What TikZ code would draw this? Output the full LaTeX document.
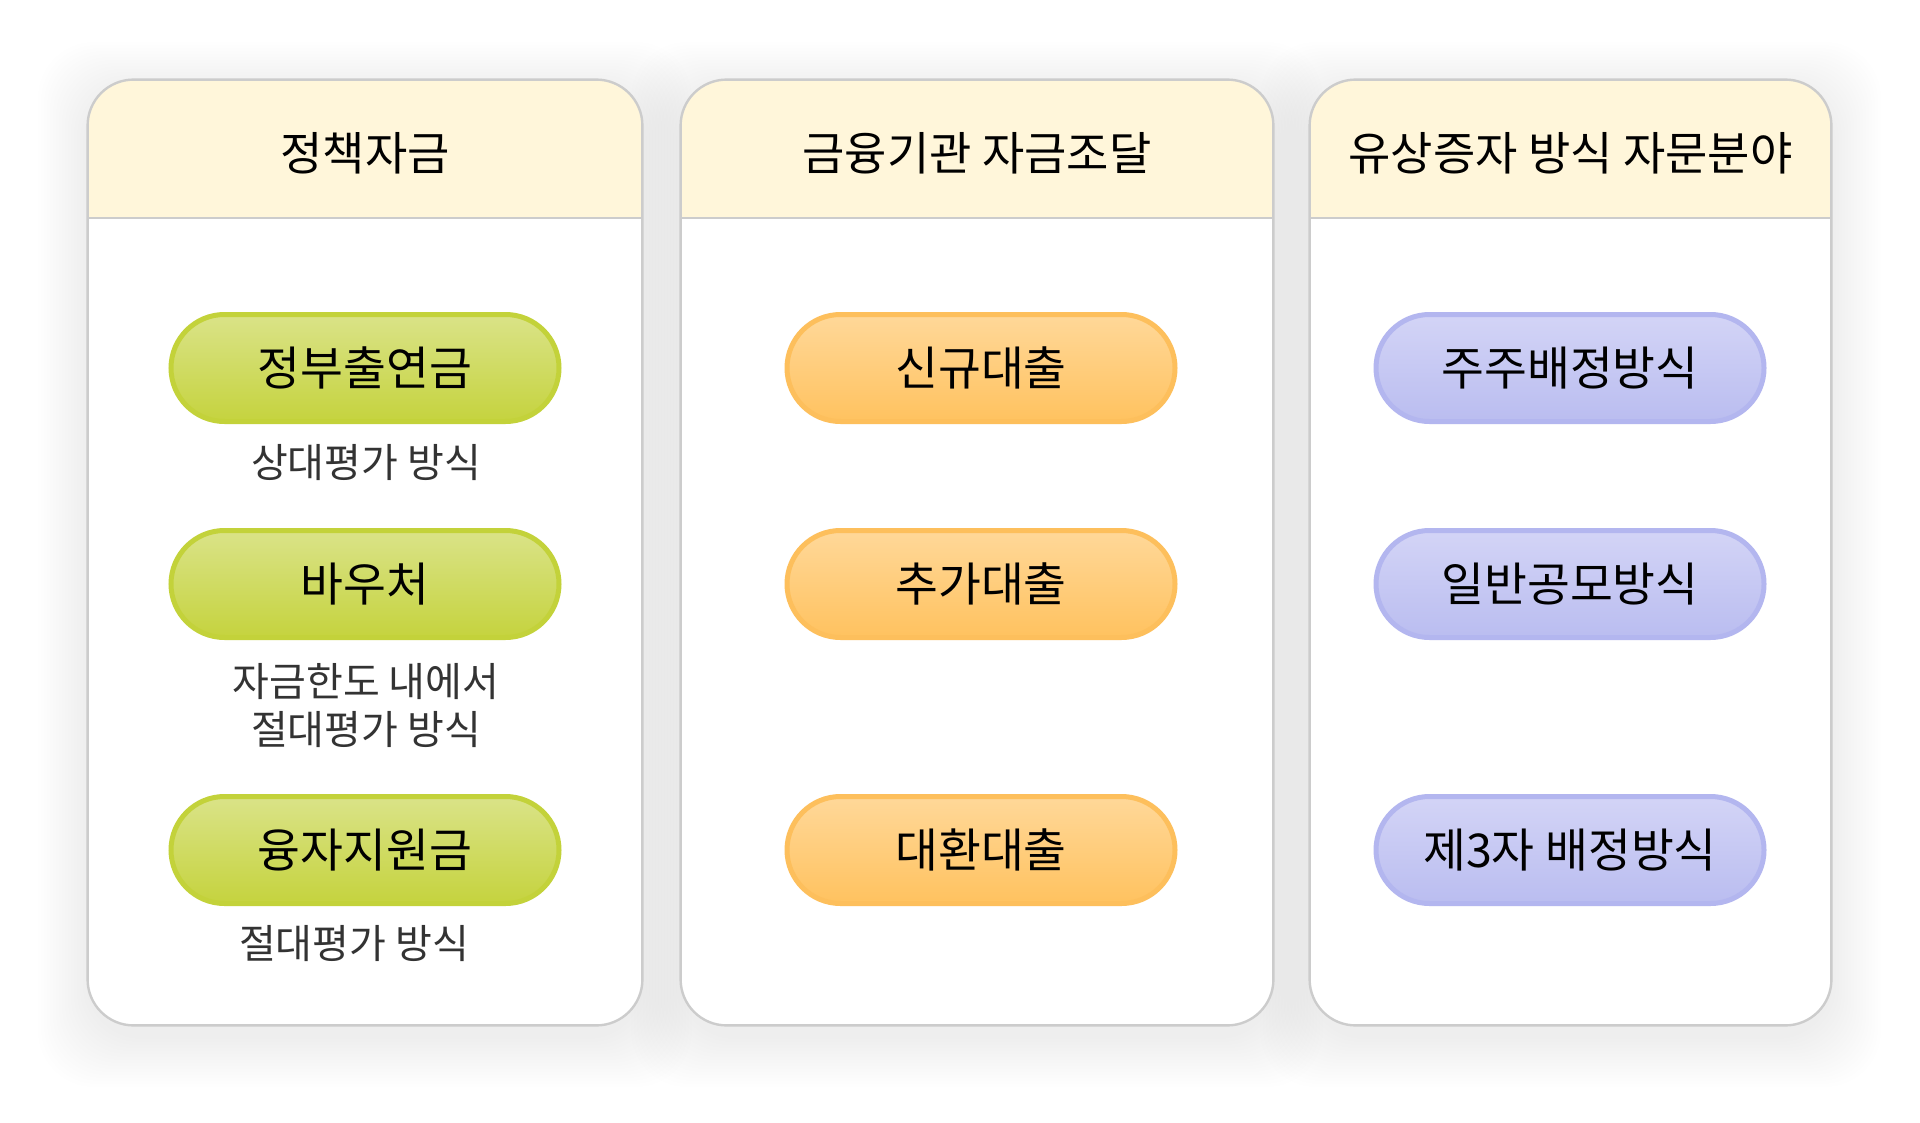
\documentclass[tikz,border=0pt]{standalone}
\usepackage{fontspec}
\setmainfont{Noto Sans CJK KR}
\definecolor{headfill}{HTML}{FFF6DA}
\definecolor{panelline}{HTML}{CCCCCC}
\definecolor{gTop}{HTML}{DAE388}
\definecolor{gBot}{HTML}{C5D33E}
\definecolor{gLine}{HTML}{C3D23A}
\definecolor{oTop}{HTML}{FFD899}
\definecolor{oBot}{HTML}{FFC25F}
\definecolor{oLine}{HTML}{FDBF5C}
\definecolor{pTop}{HTML}{D3D4F6}
\definecolor{pBot}{HTML}{BABDF0}
\definecolor{pLine}{HTML}{B3B6EF}
\definecolor{noteText}{HTML}{333333}
\begin{document}
\begin{tikzpicture}[x=0.5pt,y=-0.5pt,
  panel/.style={rectangle, rounded corners=23pt, fill=white, inner sep=0pt},
  panelborder/.style={draw=panelline, line width=1.2pt, rounded corners=23pt},
  shadowlayer/.style={fill=black, opacity=0.004, rounded corners=28pt},
  headtext/.style={font=\fontsize{23pt}{27pt}\selectfont, text=black},
  pill/.style={rectangle, rounded corners=26.75pt, minimum width=194pt, minimum height=53.5pt,
    line width=2.5pt, font=\fontsize{23.3pt}{27pt}\selectfont, text=black, inner sep=0pt},
  greenpill/.style={pill, draw=gLine, top color=gTop, bottom color=gBot},
  orangepill/.style={pill, draw=oLine, top color=oTop, bottom color=oBot},
  purplepill/.style={pill, draw=pLine, top color=pTop, bottom color=pBot},
  note/.style={font=\fontsize{20pt}{24pt}\selectfont, text=noteText, align=center}
]
\useasboundingbox (0,0) rectangle (1920,1123);
\fill[white] (0,0) rectangle (1920,1123);

% soft shadows
\foreach \a/\b in {88/642, 681/1273, 1310/1831}{
  \foreach \r in {2,5,...,50}{
    \fill[shadowlayer] (\a-\r,80-\r+12) rectangle (\b+\r,1025+\r+12);
  }
}

% panels
\node[panel, minimum width=277pt, minimum height=472.5pt] (P1) at (365,552.5) {};
\node[panel, minimum width=296pt, minimum height=472.5pt] (P2) at (977,552.5) {};
\node[panel, minimum width=260.5pt, minimum height=472.5pt] (P3) at (1570.5,552.5) {};

% headers
\foreach \a/\b in {88/642, 681/1273, 1310/1831}{
  \fill[headfill] (\a,218) [rounded corners=23pt] -- (\a,80) -- (\b,80) [sharp corners] -- (\b,218) -- cycle;
  \draw[panelline, line width=1.2pt] (\a,218) -- (\b,218);
}
\draw[panelborder] (P1.north west) rectangle (P1.south east);
\draw[panelborder] (P2.north west) rectangle (P2.south east);
\draw[panelborder] (P3.north west) rectangle (P3.south east);

\node[headtext] (H1) at (365,153) {정책자금};
\node[headtext] (H2) at (977,153) {금융기관 자금조달};
\node[headtext] (H3) at (1570.5,153) {유상증자 방식 자문분야};

% column 1
\node[greenpill] (A1) at (365,368) {정부출연금};
\node[note] (N1) at (366,463) {상대평가 방식};
\node[greenpill] (A2) at (365,584) {바우처};
\node[note] (N2) at (366,706) {자금한도 내에서\\절대평가 방식};
\node[greenpill] (A3) at (365,850) {융자지원금};
\node[note] (N3) at (354,944) {절대평가 방식};

% column 2
\node[orangepill] (B1) at (981,368) {신규대출};
\node[orangepill] (B2) at (981,584) {추가대출};
\node[orangepill] (B3) at (981,850) {대환대출};

% column 3
\node[purplepill] (C1) at (1570,368) {주주배정방식};
\node[purplepill] (C2) at (1570,584) {일반공모방식};
\node[purplepill] (C3) at (1570,850) {제3자 배정방식};
\end{tikzpicture}
\end{document}
